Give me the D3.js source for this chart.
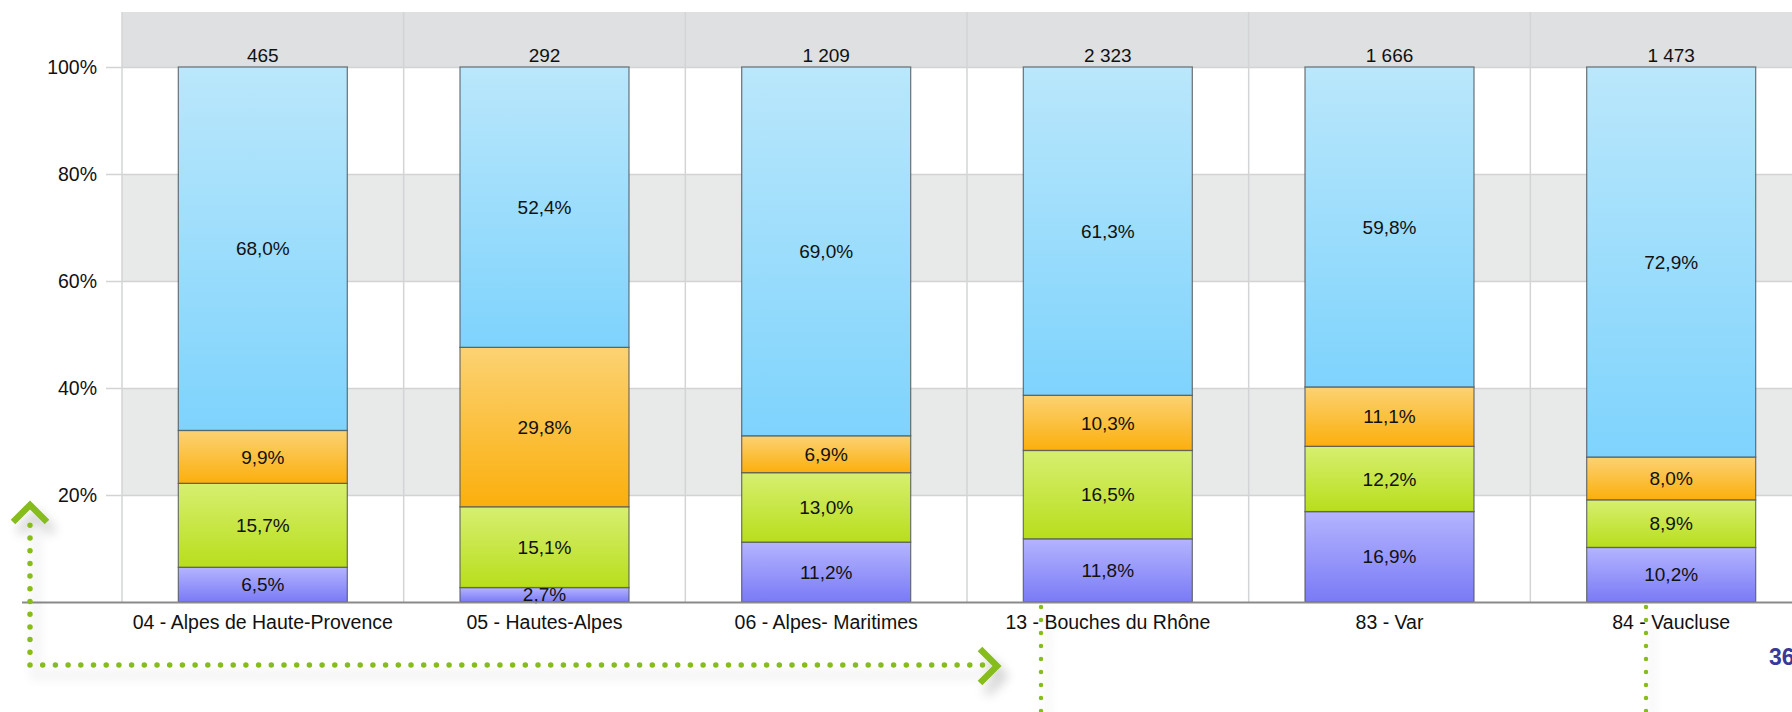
<!DOCTYPE html>
<html>
<head>
<meta charset="utf-8">
<script src="https://cdn.jsdelivr.net/npm/d3@7"></script>
<style>
  body { margin: 0; background: #fff; }
  svg { display: block; font-family: "Liberation Sans", Arial, sans-serif; }
</style>
</head>
<body>
<svg id="chart" width="1792" height="712"></svg>
<script>
// data
var departements = ["04 - Alpes de Haute-Provence", "05 - Hautes-Alpes", "06 - Alpes- Maritimes",
                    "13 - Bouches du Rhône", "83 - Var", "84 - Vaucluse"];
var totals = ["465", "292", "1 209", "2 323", "1 666", "1 473"];
var violet = [6.5, 2.7, 11.2, 11.8, 16.9, 10.2];
var vert   = [15.7, 15.1, 13.0, 16.5, 12.2, 8.9];
var orange = [9.9, 29.8, 6.9, 10.3, 11.1, 8.0];
var bleu   = [68.0, 52.4, 69.0, 61.3, 59.8, 72.9];
var yTicks = [20, 40, 60, 80, 100];
var seriesKeys = ["violet", "vert", "orange", "bleu"];

var width = 1792, height = 712;
var svg = d3.select("#chart");

var table = departements.map(function(d, i) {
  var row = {cat: d, total: totals[i], violet: violet[i], vert: vert[i], orange: orange[i], bleu: bleu[i]};
  // stack is scaled to 100% like the original (values are rounded)
  var s = violet[i] + vert[i] + orange[i] + bleu[i];
  row.norm = {violet: violet[i] * 100 / s, vert: vert[i] * 100 / s, orange: orange[i] * 100 / s, bleu: bleu[i] * 100 / s};
  return row;
});

var x = d3.scaleBand()
    .domain(departements)
    .range([122, 1812])
    .paddingInner(0.4)
    .paddingOuter(0.2);
var y = d3.scaleLinear()
    .domain([0, 100])
    .range([602, 67]);

var colors = {
  violet: ["#b4b4ff", "#7a7af6"],
  vert:   ["#d7ef70", "#b8de1c"],
  orange: ["#fcd273", "#fbaf0c"],
  bleu:   ["#bae7fb", "#7ed3fd"]
};

// DEFS
var defs = svg.append("defs");
seriesKeys.forEach(function(k) {
  var g = defs.append("linearGradient")
      .attr("id", "grad-" + k)
      .attr("x1", "0%").attr("y1", "0%")
      .attr("x2", "0%").attr("y2", "100%");
  g.append("stop").attr("offset", "0%").attr("stop-color", colors[k][0]);
  g.append("stop").attr("offset", "100%").attr("stop-color", colors[k][1]);
});
var shadow = defs.append("filter")
    .attr("id", "shadow")
    .attr("x", "-20%").attr("y", "-20%")
    .attr("width", "140%").attr("height", "140%");
shadow.append("feGaussianBlur").attr("in", "SourceAlpha").attr("stdDeviation", 6);
shadow.append("feOffset").attr("dx", 6).attr("dy", 10).attr("result", "blur");
shadow.append("feComponentTransfer").append("feFuncA").attr("type", "linear").attr("slope", 0.25);
var merge = shadow.append("feMerge");
merge.append("feMergeNode");
merge.append("feMergeNode").attr("in", "SourceGraphic");

// BACKGROUND BANDS
var plotRight = width;
svg.append("rect")
    .attr("x", 122).attr("y", 12)
    .attr("width", plotRight - 122).attr("height", y(100) - 12)
    .style("fill", "#dee0e1");
[[60, 80], [20, 40]].forEach(function(b) {
  svg.append("rect")
      .attr("x", 122).attr("y", y(b[1]))
      .attr("width", plotRight - 122).attr("height", y(b[0]) - y(b[1]))
      .style("fill", "#e8e9e9");
});

// GRID
svg.append("g").selectAll("line")
    .data(yTicks)
  .enter().append("line")
    .attr("x1", 106).attr("x2", plotRight)
    .attr("y1", function(d) { return y(d) + 0.5; })
    .attr("y2", function(d) { return y(d) + 0.5; })
    .style("stroke", "#d2d3d4")
    .style("stroke-width", 1.5);

var step = x.step();
svg.append("g").selectAll("line")
    .data(d3.range(departements.length + 1))
  .enter().append("line")
    .attr("x1", function(i) { return x.range()[0] + i * step; })
    .attr("x2", function(i) { return x.range()[0] + i * step; })
    .attr("y1", 12).attr("y2", y(0))
    .style("stroke", "#d3d4d5")
    .style("stroke-width", 1.5);

// Y AXIS LABELS
svg.append("g").selectAll("text")
    .data(yTicks)
  .enter().append("text")
    .attr("x", 97)
    .attr("y", function(d) { return y(d); })
    .attr("dy", "0.35em")
    .attr("text-anchor", "end")
    .style("font-size", "19.5px")
    .style("fill", "#111")
    .text(function(d) { return d + "%"; });

// BARS
var fmt = function(v) { return v.toFixed(1).replace(".", ",") + "%"; };
var stacked = d3.stack()
    .keys(seriesKeys)
    .value(function(d, k) { return d.norm[k]; })(table);

var layers = svg.append("g").selectAll("g")
    .data(stacked)
  .enter().append("g");

layers.selectAll("rect")
    .data(function(s) { return s.map(function(p) { p.key = s.key; return p; }); })
  .enter().append("rect")
    .attr("x", function(d) { return x(d.data.cat); })
    .attr("y", function(d) { return y(d[1]); })
    .attr("width", x.bandwidth())
    .attr("height", function(d) { return y(d[0]) - y(d[1]); })
    .style("fill", function(d) { return "url(#grad-" + d.key + ")"; })
    .style("stroke", "#4d5358")
    .style("stroke-opacity", 0.75)
    .style("stroke-width", 1.3);

layers.selectAll("text")
    .data(function(s) { return s.map(function(p) { p.key = s.key; return p; }); })
  .enter().append("text")
    .attr("x", function(d) { return x(d.data.cat) + x.bandwidth() / 2; })
    .attr("y", function(d) { return (y(d[0]) + y(d[1])) / 2; })
    .attr("dy", "0.35em")
    .attr("text-anchor", "middle")
    .style("font-size", "19px")
    .style("fill", "#111")
    .text(function(d) { return fmt(d.data[d.key]); });

// TOTALS ABOVE BARS
svg.append("g").selectAll("text")
    .data(table)
  .enter().append("text")
    .attr("x", function(d) { return x(d.cat) + x.bandwidth() / 2; })
    .attr("y", y(100) - 5)
    .attr("text-anchor", "middle")
    .style("font-size", "19px")
    .style("fill", "#111")
    .text(function(d) { return d.total; });

// X AXIS
svg.append("line")
    .attr("x1", 22).attr("x2", plotRight)
    .attr("y1", y(0) + 0.5).attr("y2", y(0) + 0.5)
    .style("stroke", "#8a8a8a")
    .style("stroke-width", 2);

svg.append("g").selectAll("text")
    .data(departements)
  .enter().append("text")
    .attr("x", function(d) { return x(d) + x.bandwidth() / 2; })
    .attr("y", 629)
    .attr("text-anchor", "middle")
    .style("font-size", "19.5px")
    .style("fill", "#111")
    .text(function(d) { return d; });

// DECORATION: green dotted arrows of the slide
var green = "#86bc1f";
var deco = svg.append("g").attr("filter", "url(#shadow)");
deco.append("path")
    .attr("d", "M30,665 L30,522 M30,665 L985,665")
    .style("fill", "none")
    .style("stroke", green)
    .style("stroke-width", 5.5)
    .style("stroke-linecap", "round")
    .style("stroke-dasharray", "0 12.7");
deco.append("path")
    .attr("d", "M13,522 L30,505 L47,522")
    .style("fill", "none")
    .style("stroke", green)
    .style("stroke-width", 6.5);
deco.append("path")
    .attr("d", "M980,649 L997,666 L980,683")
    .style("fill", "none")
    .style("stroke", green)
    .style("stroke-width", 6.5);

[1041, 1646].forEach(function(px) {
  deco.append("line")
      .attr("x1", px).attr("x2", px)
      .attr("y1", 607).attr("y2", 712)
      .style("stroke", green)
      .style("stroke-width", 4.5)
      .style("stroke-linecap", "round")
      .style("stroke-dasharray", "0 13");
});

// slide page number, cut by the right edge as in the original
svg.append("text")
    .attr("x", 1769)
    .attr("y", 665)
    .style("font-size", "23px")
    .style("font-weight", "bold")
    .style("fill", "#383a9b")
    .text("36");
</script>
</body>
</html>
